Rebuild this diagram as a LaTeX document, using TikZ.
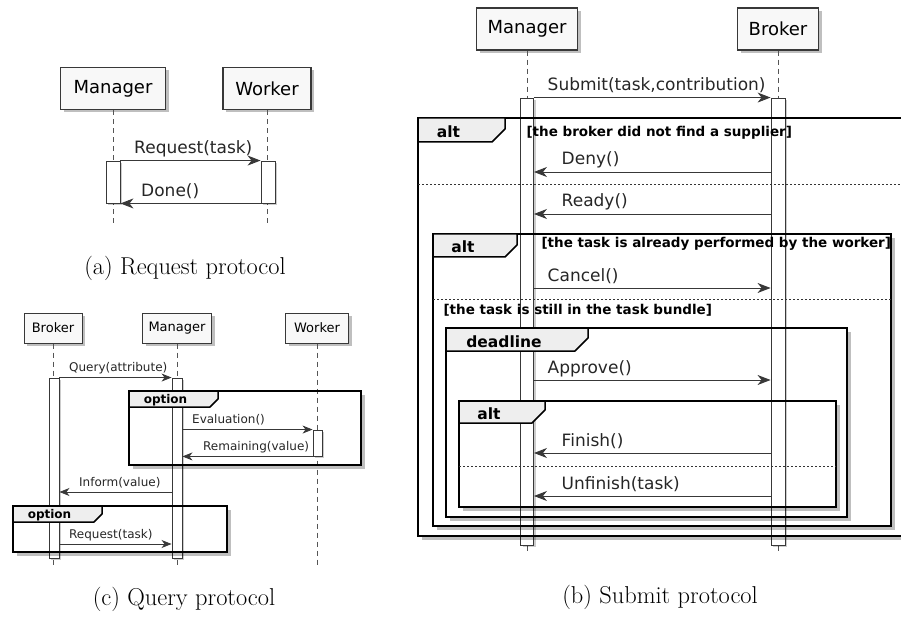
\documentclass[tikz,border=0pt]{standalone}
\usepackage{fontspec}
\newfontfamily\plant{DejaVu Sans}
\usepackage{tikz}
\usetikzlibrary{positioning,arrows.meta,shadows}

\definecolor{boxfill}{HTML}{F8F8F8}
\definecolor{tabfill}{HTML}{EEEEEE}
\definecolor{linecol}{HTML}{383838}
\definecolor{lifecol}{HTML}{555555}

\tikzset{
  part/.style={draw=linecol, fill=boxfill, line width=1.4pt, inner sep=0pt,
    drop shadow={shadow xshift=3pt, shadow yshift=-3pt, fill=black, opacity=.25}},
  partbig/.style={part, minimum height=42pt, font=\plant\fontsize{18}{20}\selectfont},
  partsmall/.style={part, line width=1pt, minimum height=30pt, font=\plant\fontsize{13}{15}\selectfont},
  life/.style={draw=lifecol, line width=.9pt, dash pattern=on 5pt off 4pt},
  act/.style={draw=linecol, fill=white, line width=.9pt, inner sep=0pt,
    drop shadow={shadow xshift=2pt, shadow yshift=-2pt, fill=black, opacity=.2}},
  msg/.style={draw=linecol, line width=.9pt, -{Stealth[length=13pt,width=10pt,inset=4pt]}},
  msgs/.style={draw=linecol, line width=.8pt, -{Stealth[length=10pt,width=8pt,inset=3pt]}},
  rlbl/.style={pos=0, anchor=base west, xshift=10pt, yshift=7pt, text=black!85,
    font=\plant\fontsize{17}{19}\selectfont},
  llbl/.style={rlbl, pos=1, xshift=14pt},
  rlbls/.style={pos=0, anchor=base west, xshift=6pt, yshift=6pt, text=black!85,
    font=\plant\fontsize{12}{14}\selectfont},
  llbls/.style={rlbls, pos=1, xshift=10pt},
  frameline/.style={draw=black, line width=2.3pt},
  fshadow/.style={draw=black, line width=3pt, opacity=.25},
  tabline/.style={draw=black, fill=tabfill, line width=1.5pt, line join=round},
  ftitle/.style={anchor=base, font=\plant\bfseries\fontsize{15.5}{17}\selectfont},
  ftitles/.style={anchor=base, font=\plant\bfseries\fontsize{12}{14}\selectfont},
  guard/.style={anchor=base west, font=\plant\bfseries\fontsize{13.5}{15}\selectfont},
  sepline/.style={draw=black!80, line width=.8pt, dash pattern=on 2pt off 2pt},
  caption/.style={anchor=base, font=\fontsize{24.4}{28}\selectfont}
}

\newcommand{\seqframe}[9]{%
  \draw[fshadow] ({#1+4},{#4+2.5}) -- ({#3+2.5},{#4+2.5}) -- ({#3+2.5},{#2+4});
  \draw[frameline] (#1,#2) rectangle (#3,#4);
  \draw[tabline] (#1,#2) -- (#5,#2) -- (#5,{#6-#7}) -- ({#5-#7},#6) -- (#1,#6) -- cycle;
  \node[#8] at ({(#1+#5)/2-#7},{#6-4}) {#9};
}

\begin{document}
\begin{tikzpicture}[x=1pt, y=-1pt]
\useasboundingbox (0,0) rectangle (901,617);
\clip (0,0) rectangle (901,617);

% (a) request protocol
\node[partbig, minimum width=105pt] (mgrA) at (113,88.5) {Manager};
\node[partbig, minimum width=88pt] (wrkA) at (267,88.5) {Worker};
\draw[life] (mgrA.south) -- ++(0,115);
\draw[life] (wrkA.south) -- ++(0,115);
\node[act, minimum width=14pt, minimum height=42pt] (actMa) at (113,182) {};
\node[act, minimum width=14pt, minimum height=42pt] (actWa) at (268,182) {};
\draw[msg] (actMa.north east) -- (actWa.north west) node[rlbl] {Request(task)};
\draw[msg] (actWa.south west) -- (actMa.south east) node[llbl, xshift=-7pt] {Done()};
\node[caption] (capA) at (185,275) {(a) Request protocol};

% (c) query protocol
\node[partsmall, minimum width=58pt] (bkrC) at (53,328) {Broker};
\node[partsmall, minimum width=69pt] (mgrC) at (177,328) {Manager};
\node[partsmall, minimum width=63pt] (wrkC) at (317,328) {Worker};
\draw[life] (bkrC.south) -- ++(0,222);
\draw[life] (mgrC.south) -- ++(0,222);
\draw[life] (wrkC.south) -- ++(0,222);
\node[act, minimum width=10pt, minimum height=180pt] (actBc) at (54,468) {};
\node[act, minimum width=10pt, minimum height=180pt] (actMc) at (177,468) {};
\node[act, minimum width=9pt, minimum height=26pt] (actWc) at (317.5,443) {};
\seqframe{129}{391}{361}{465}{218}{407}{8}{ftitles}{option}
\seqframe{13}{506}{227}{552}{102}{522}{8}{ftitles}{option}
\draw[msgs] (actBc.north east) -- (actMc.north west) node[rlbls] {Query(attribute)};
\draw[msgs] (actMc.east |- actWc.north) -- (actWc.north west) node[rlbls] {Evaluation()};
\draw[msgs] (actWc.south west) -- (actMc.east |- actWc.south) node[llbls, xshift=1pt] {Remaining(value)};
\draw[msgs] (actMc.west |- 0,492) -- (actBc.east |- 0,492) node[llbls] {Inform(value)};
\draw[msgs] (actBc.east |- 0,544) -- (actMc.west |- 0,544) node[rlbls] {Request(task)};
\node[caption] (capC) at (184,605) {(c) Query protocol};

% (b) submit protocol
\node[partbig, minimum width=101pt] (mgrB) at (527,29) {Manager};
\node[partbig, minimum width=81pt] (bkrB) at (778,29) {Broker};
\draw[life] (mgrB.south) -- ++(0,503);
\draw[life] (bkrB.south) -- ++(0,503);
\node[act, minimum width=13pt, minimum height=447pt] (actMb) at (527,321.5) {};
\node[act, minimum width=14pt, minimum height=447pt] (actBb) at (778,321.5) {};
\seqframe{418}{118}{912}{536}{505}{142}{13}{ftitle}{alt}
\seqframe{433}{234}{891}{526}{517}{257}{12}{ftitle}{alt}
\seqframe{446}{328}{847}{517}{588}{351}{13}{ftitle}{deadline}
\seqframe{459}{401}{836}{507}{545}{423}{13}{ftitle}{alt}
\node[guard] (grd1) at (523,137) {[the broker did not find a supplier]};
\node[guard] (grd2) at (538,248) {[the task is already performed by the worker]};
\node[guard] (grd3) at (440,314) {[the task is still in the task bundle]};
\draw[sepline] (418,184) -- (912,184);
\draw[sepline] (433,299) -- (891,299);
\draw[sepline] (459,466) -- (836,466);
\draw[msg] (actMb.north east) -- (actBb.north west) node[rlbl] {Submit(task,contribution)};
\draw[msg] (actBb.west |- 0,172) -- (actMb.east |- 0,172) node[llbl] {Deny()};
\draw[msg] (actBb.west |- 0,214) -- (actMb.east |- 0,214) node[llbl] {Ready()};
\draw[msg] (actMb.east |- 0,288) -- (actBb.west |- 0,288) node[rlbl] {Cancel()};
\draw[msg] (actMb.east |- 0,380) -- (actBb.west |- 0,380) node[rlbl] {Approve()};
\draw[msg] (actBb.west |- 0,453) -- (actMb.east |- 0,453) node[llbl] {Finish()};
\draw[msg] (actBb.west |- 0,496) -- (actMb.east |- 0,496) node[llbl] {Unfinish(task)};
\node[caption] (capB) at (660,603) {(b) Submit protocol};
\end{tikzpicture}
\end{document}
